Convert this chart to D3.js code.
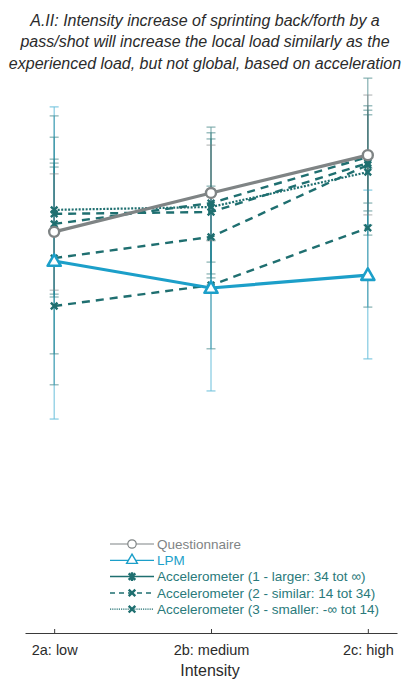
<!DOCTYPE html>
<html><head><meta charset="utf-8">
<script src="https://cdn.jsdelivr.net/npm/d3@7"></script>
<style>
html,body{margin:0;padding:0;background:#fff;}
svg{display:block;font-family:"Liberation Sans",Arial,sans-serif;}
</style></head>
<body>
<svg id="chart" width="409" height="680"></svg>
<script>
// ---- data ----
const categories = ["2a: low", "2b: medium", "2c: high"];
const titleLines = [
  "A.II: Intensity increase of sprinting back/forth by a",
  "pass/shot will increase the local load similarly as the",
  "experienced load, but not global, based on acceleration"
];
const xTitle = "Intensity";

const questionnaire   = [55.6, 66.4, 76.9];
const questionnaireLo = [39.4, 53.1, 60.3];
const questionnaireHi = [71.7, 79.7, 93.6];

const lpm   = [47.5, 40.0, 43.6];
const lpmLo = [3.6, 11.4, 20.3];
const lpmHi = [90.3, 67.2, 67.2];

const accelA   = [57.8, 63.6, 76.4];
const accelALo = [37.5, 42.8, 54.7];
const accelAHi = [87.8, 84.7, 98.3];

const accelB   = [60.6, 61.1, 74.7];
const accelBLo = [38.3, 43.9, 61.4];
const accelBHi = [81.9, 83.1, 90.6];

const accelC   = [61.7, 62.5, 72.2];
const accelCLo = [47.2, 47.2, 63.6];
const accelCHi = [75.8, 81.4, 89.4];

const accelD   = [48.3, 54.2, 74.2];
const accelDLo = [21.7, 39.4, 57.5];
const accelDHi = [74.7, 68.3, 88.1];

const accelE   = [35.0, 40.8, 56.7];
const accelELo = [13.1, 23.1, 34.7];
const accelEHi = [73.6, 53.3, 73.3];

const legendLabels = [
  "Questionnaire",
  "LPM",
  "Accelerometer (1 - larger: 34 tot \u221e)",
  "Accelerometer (2 - similar: 14 tot 34)",
  "Accelerometer (3 - smaller: -\u221e tot 14)"
];

// ---- styles ----
const cGrey = "#7f8485", cBlue = "#1c9fc9", cTeal = "#1f6f70";

const series = [
  {v: accelE, lo: accelELo, hi: accelEHi, color: cTeal, dash: "8,6", w: 2.4, marker: "x"},
  {v: accelD, lo: accelDLo, hi: accelDHi, color: cTeal, dash: "8,6", w: 2.4, marker: "x"},
  {v: accelA, lo: accelALo, hi: accelAHi, color: cTeal, dash: "8,6", w: 2.4, marker: "x"},
  {v: accelB, lo: accelBLo, hi: accelBHi, color: cTeal, dash: "8,6", w: 2.4, marker: "x"},
  {v: accelC, lo: accelCLo, hi: accelCHi, color: cTeal, dash: "2,1.5", w: 2.2, marker: "x"},
  {v: lpm, lo: lpmLo, hi: lpmHi, color: cBlue, dash: null, w: 3.2, marker: "tri"},
  {v: questionnaire, lo: questionnaireLo, hi: questionnaireHi, color: cGrey, dash: null, w: 3.2, marker: "circle"}
];

const svg = d3.select("#chart");

const x = d3.scalePoint().domain(categories).range([25, 397]).padding(0.186);
const y = d3.scaleLinear().domain([0, 100]).range([432, 72]);

// title
svg.append("g").selectAll("text").data(titleLines).join("text")
  .attr("x", 205).attr("y", (d, i) => 25.5 + i * 21.5)
  .attr("text-anchor", "middle").attr("font-style", "italic")
  .attr("font-size", 16).attr("fill", "#2b2b2b").text(d => d);

// error bars
const eb = svg.append("g");
series.forEach(s => {
  categories.forEach((c, i) => {
    const g = eb.append("g").attr("stroke", s.color).attr("stroke-width", 1).attr("opacity", 0.65);
    g.append("line").attr("x1", x(c)).attr("x2", x(c)).attr("y1", y(s.lo[i])).attr("y2", y(s.hi[i]));
    [s.lo[i], s.hi[i]].forEach(b => {
      g.append("line").attr("x1", x(c) - 4.5).attr("x2", x(c) + 4.5).attr("y1", y(b)).attr("y2", y(b));
    });
  });
});

// lines
const line = d3.line().x((d, i) => x(categories[i])).y(d => y(d));
series.forEach(s => {
  svg.append("path").datum(s.v).attr("d", line).attr("fill", "none")
    .attr("stroke", s.color).attr("stroke-width", s.w)
    .attr("stroke-dasharray", s.dash);
});

function drawMarker(g, type, cx, cy, color) {
  if (type === "circle") {
    g.append("circle").attr("cx", cx).attr("cy", cy).attr("r", 5)
      .attr("fill", "#fff").attr("stroke", color).attr("stroke-width", 2.4);
  } else if (type === "tri") {
    g.append("path").attr("d", d3.symbol(d3.symbolTriangle, 75)())
      .attr("transform", `translate(${cx},${cy + 1})`)
      .attr("fill", "#fff").attr("stroke", color).attr("stroke-width", 2.6).attr("stroke-linejoin", "round");
  } else if (type === "x" || type === "star") {
    const r = 3.3;
    const p = d3.path();
    p.moveTo(cx - r, cy - r); p.lineTo(cx + r, cy + r);
    p.moveTo(cx - r, cy + r); p.lineTo(cx + r, cy - r);
    if (type === "star") { p.moveTo(cx, cy - r * 1.3); p.lineTo(cx, cy + r * 1.3); }
    g.append("path").attr("d", p.toString()).attr("stroke", color).attr("stroke-width", 2.4).attr("fill", "none");
  }
}

// markers
const mk = svg.append("g");
series.forEach(s => {
  s.v.forEach((v, i) => drawMarker(mk, s.marker, x(categories[i]), y(v), s.color));
});

// x axis
const ax = svg.append("g").attr("transform", "translate(0,633)")
  .call(d3.axisBottom(x).tickSizeInner(-4).tickSizeOuter(0).tickPadding(12));
ax.select(".domain").attr("stroke", "#3a3a3a").attr("stroke-width", 1);
ax.selectAll(".tick line").attr("stroke", "#3a3a3a");
ax.selectAll("text").attr("font-size", 14.5).attr("fill", "#2b2b2b")
  .attr("font-family", "Liberation Sans, Arial, sans-serif");

svg.append("text").attr("x", 210).attr("y", 676).attr("text-anchor", "middle")
  .attr("font-size", 16).attr("fill", "#2b2b2b").text(xTitle);

// legend
const legendStyle = [
  {color: cGrey, dash: null, w: 1.2, marker: "circle"},
  {color: cBlue, dash: null, w: 1.2, marker: "tri"},
  {color: cTeal, dash: null, w: 1.5, marker: "star"},
  {color: cTeal, dash: "5,4", w: 1.5, marker: "x"},
  {color: cTeal, dash: "1.2,1", w: 1.2, marker: "x"}
];
const lg = svg.append("g");
legendLabels.forEach((t, i) => {
  const st = legendStyle[i];
  const yy = 544 + i * 16.3;
  lg.append("line").attr("x1", 110).attr("x2", 154).attr("y1", yy).attr("y2", yy)
    .attr("stroke", st.color).attr("stroke-width", st.w).attr("stroke-dasharray", st.dash);
  const mg = lg.append("g");
  if (st.marker === "circle") {
    mg.append("circle").attr("cx", 132).attr("cy", yy).attr("r", 4.2).attr("fill", "#fff").attr("stroke", st.color).attr("stroke-width", 1.2);
  } else if (st.marker === "tri") {
    mg.append("path").attr("d", d3.symbol(d3.symbolTriangle, 50)()).attr("transform", `translate(132,${yy})`)
      .attr("fill", "#fff").attr("stroke", st.color).attr("stroke-width", 1.4);
  } else {
    drawMarker(mg, st.marker, 132, yy, st.color);
  }
  lg.append("text").attr("x", 157).attr("y", yy + 4.8).attr("font-size", 13.5)
    .attr("fill", st.color === cTeal ? "#2a7a7b" : st.color).text(t);
});
</script>
</body></html>
